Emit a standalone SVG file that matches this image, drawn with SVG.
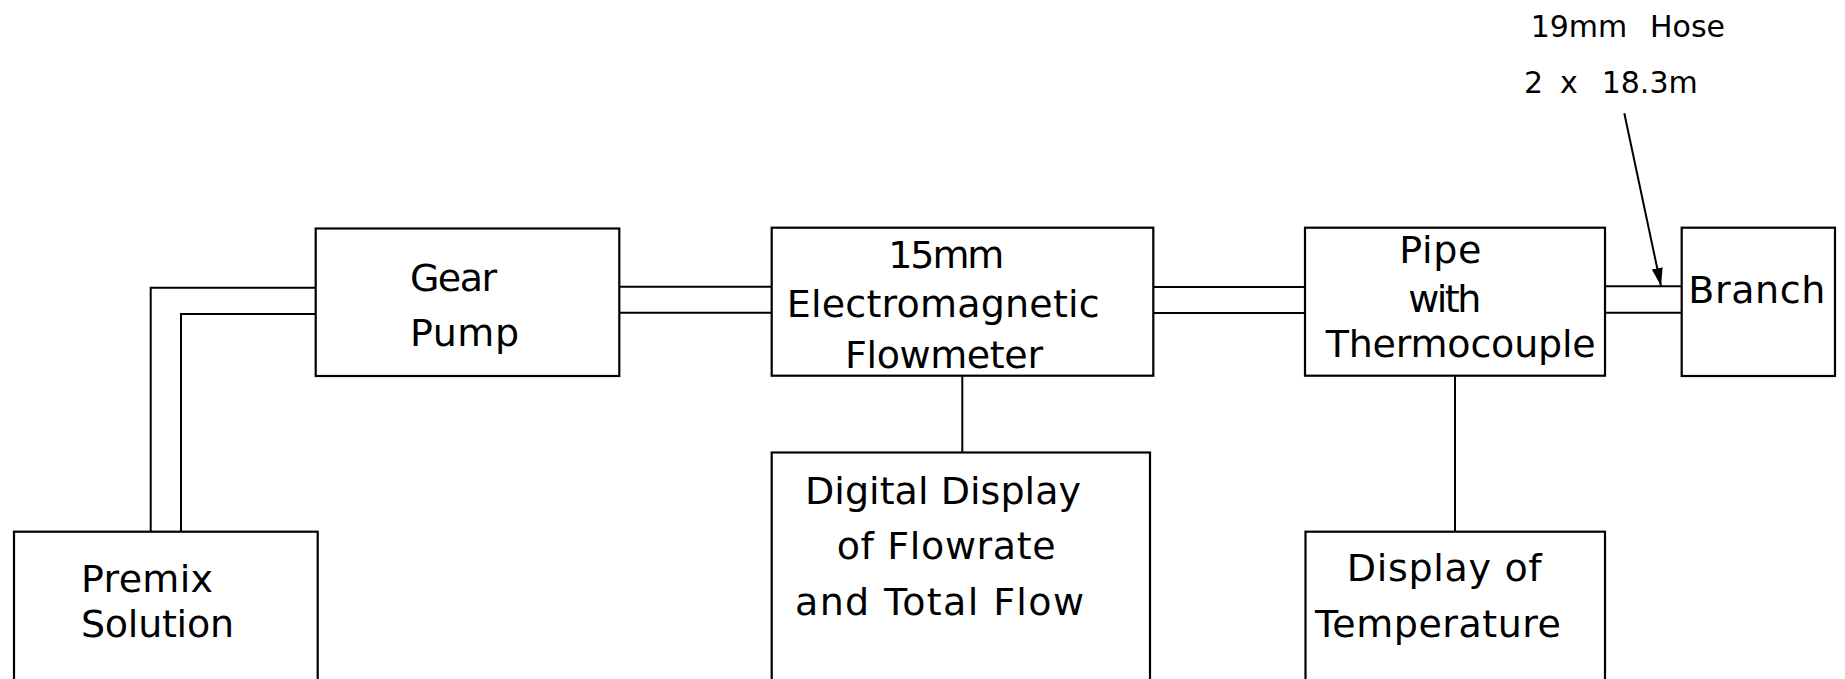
<svg xmlns="http://www.w3.org/2000/svg" width="1845" height="679" viewBox="0 0 1845 679">
<style>
.box{fill:none;stroke:#000;stroke-width:2.2}
.pipe{fill:none;stroke:#000;stroke-width:2}
.lbl{font-family:"DejaVu Sans","Liberation Sans",sans-serif;font-size:38px;fill:#000}
.note{font-family:"DejaVu Sans","Liberation Sans",sans-serif;font-size:30px;fill:#000}
</style>
<defs>
<marker id="arrow" markerUnits="userSpaceOnUse" markerWidth="19" markerHeight="12" refX="18" refY="5.5" orient="auto">
<path d="M0,0 L18,5.5 L0,11 z" fill="#000"/>
</marker>
</defs>
<rect width="1845" height="679" fill="#fff"/>
<g id="connectors">
<polyline class="pipe" points="150.7,531.7 150.7,287.7 315.7,287.7"/>
<polyline class="pipe" points="181,531.7 181,314 315.7,314"/>
<line class="pipe" x1="619.3" y1="286.8" x2="771.7" y2="286.8"/>
<line class="pipe" x1="619.3" y1="312.8" x2="771.7" y2="312.8"/>
<line class="pipe" x1="1153.3" y1="287" x2="1305" y2="287"/>
<line class="pipe" x1="1153.3" y1="313" x2="1305" y2="313"/>
<line class="pipe" x1="1605" y1="286.3" x2="1681.7" y2="286.3"/>
<line class="pipe" x1="1605" y1="312.7" x2="1681.7" y2="312.7"/>
<line class="pipe" x1="962.3" y1="375.7" x2="962.3" y2="452.5"/>
<line class="pipe" x1="1455" y1="375.7" x2="1455" y2="531.7"/>
<line class="pipe" x1="1624.3" y1="113.3" x2="1661" y2="286" marker-end="url(#arrow)"/>
</g>
<g id="premix">
<rect class="box" x="14" y="531.7" width="303.7" height="160"/>
<text class="lbl" x="81" y="591.7" textLength="132" lengthAdjust="spacing">Premix</text>
<text class="lbl" x="81" y="637.3" textLength="153" lengthAdjust="spacing">Solution</text>
</g>
<g id="gear-pump">
<rect class="box" x="315.7" y="228.5" width="303.6" height="147.5"/>
<text class="lbl" x="410" y="290.7" textLength="87" lengthAdjust="spacing">Gear</text>
<text class="lbl" x="410" y="345.7" textLength="109" lengthAdjust="spacing">Pump</text>
</g>
<g id="flowmeter">
<rect class="box" x="771.7" y="227.7" width="381.6" height="148"/>
<text class="lbl" x="888.3" y="267.7" textLength="116" lengthAdjust="spacing">15mm</text>
<text class="lbl" x="786.7" y="316.7" textLength="313" lengthAdjust="spacing">Electromagnetic</text>
<text class="lbl" x="845" y="367.7" textLength="198" lengthAdjust="spacing">Flowmeter</text>
</g>
<g id="digital-display">
<rect class="box" x="771.7" y="452.5" width="378.3" height="240"/>
<text class="lbl" x="805" y="504" textLength="276" lengthAdjust="spacing">Digital Display</text>
<text class="lbl" x="836.7" y="559" textLength="219" lengthAdjust="spacing">of Flowrate</text>
<text class="lbl" x="795" y="615" textLength="289" lengthAdjust="spacing">and Total Flow</text>
</g>
<g id="pipe-thermocouple">
<rect class="box" x="1305" y="227.7" width="300" height="148"/>
<text class="lbl" x="1399.3" y="263.3" textLength="82" lengthAdjust="spacing">Pipe</text>
<text class="lbl" x="1408.3" y="311.7" textLength="73" lengthAdjust="spacing">with</text>
<text class="lbl" x="1325.7" y="356.7" textLength="270" lengthAdjust="spacing">Thermocouple</text>
</g>
<g id="display-temperature">
<rect class="box" x="1305.5" y="531.7" width="299.5" height="160"/>
<text class="lbl" x="1346.7" y="581" textLength="195" lengthAdjust="spacing">Display of</text>
<text class="lbl" x="1315" y="636.7" textLength="246" lengthAdjust="spacing">Temperature</text>
</g>
<g id="branch">
<rect class="box" x="1681.7" y="227.7" width="153.3" height="148.3"/>
<text class="lbl" x="1688.3" y="302.7" textLength="137" lengthAdjust="spacing">Branch</text>
</g>
<g id="hose-label">
<text class="note" y="36.7"><tspan x="1530.7">19mm</tspan> <tspan x="1650">Hose</tspan></text>
<text class="note" y="93.3"><tspan x="1524">2</tspan> <tspan x="1560">x</tspan> <tspan x="1601.7">18.3m</tspan></text>
</g>
</svg>
